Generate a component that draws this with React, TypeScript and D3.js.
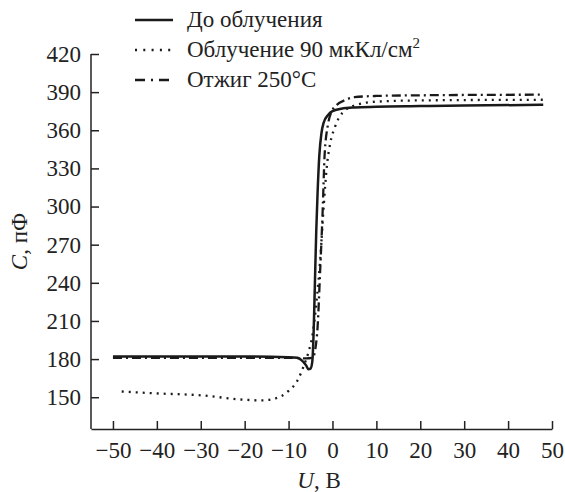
import React, { useEffect, useRef } from "react";
import * as d3 from "d3";

// C-V curves, U in volts, C in pF
const solidU = [-50, -40, -30, -20, -10, -8, -7, -6, -5.5, -5, -4.6, -4.3, -4, -3.7, -3.4, -3, -2.5, -2, -1, 0, 2, 5, 10, 20, 30, 48];
const solidC = [182, 182, 182, 182, 181.5, 181, 179, 175, 172, 172.5, 178, 200, 240, 280, 310, 340, 358, 366, 372, 375, 377, 378, 378.5, 379, 379.5, 380];

const dotU = [-48, -40, -30, -20, -16, -13, -10, -8, -6.5, -5.5, -4.5, -3.5, -2.8, -2, -1.3, -0.5, 0.5, 1.5, 3, 5, 10, 20, 48];
const dotC = [154.5, 153, 151.5, 148, 147.5, 149, 155, 163, 175, 185, 200, 230, 258, 300, 331, 350, 362, 370, 376, 379.5, 382.5, 383.5, 384];

const annealU = [-50, -40, -30, -20, -10, -6, -4.5, -3.5, -2.8, -2.2, -1.8, -1, 0, 1, 3, 5, 10, 20, 48];
const annealC = [181, 181, 181, 181, 181, 180.5, 181, 200, 250, 300, 340, 365, 376, 380, 384, 386, 387, 387.5, 388];

const xTicks = [-50, -40, -30, -20, -10, 0, 10, 20, 30, 40, 50];
const yTicks = [150, 180, 210, 240, 270, 300, 330, 360, 390, 420];

const legendNames = ["До облучения", "Облучение 90 мкКл/см", "Отжиг 250°C"];
const dashes = [null, "2,5", "9,4,2,4"];
const legendDashes = [null, "2,6.3", "10,6,2,6"];

const W = 565;
const H = 492;
const FONT = "Liberation Serif, Times New Roman, Times, Tinos, DejaVu Serif, Noto Serif, FreeSerif, serif";

export default function App() {
  const ref = useRef<SVGSVGElement>(null);

  useEffect(() => {
    const svg = d3.select(ref.current);
    svg.selectAll("*").remove();

    const margin = { top: 54, left: 91, right: 13, bottom: 63 };
    const x = d3.scaleLinear().domain([-55, 50]).range([margin.left, W - margin.right]);
    const y = d3.scaleLinear().domain([125, 420]).range([H - margin.bottom, margin.top]);

    const fmt = d3.format("d");

    //AXES
    const xAxis = svg.append("g")
      .attr("transform", `translate(0,${H - margin.bottom})`)
      .call(d3.axisBottom(x).tickValues(xTicks).tickSize(-8).tickSizeOuter(0).tickPadding(13).tickFormat(d => fmt(d as number)));
    const yAxis = svg.append("g")
      .attr("transform", `translate(${margin.left},0)`)
      .call(d3.axisLeft(y).tickValues(yTicks).tickSize(-8).tickSizeOuter(0).tickPadding(10).tickFormat(d => fmt(d as number)));

    for (const g of [xAxis, yAxis]) {
      g.attr("font-family", FONT).attr("font-size", 23);
      g.select(".domain").attr("stroke", "#222").attr("stroke-width", 1.5);
      g.selectAll(".tick line").attr("stroke", "#222").attr("stroke-width", 1.5);
      g.selectAll("text").attr("fill", "#222");
    }
    // y axis line stops at top tick
    yAxis.select(".domain").attr("d", `M0,${y(420)}V${H - margin.bottom}`);

    //CURVES
    const line = d3.line<[number, number]>()
      .x(d => x(d[0]))
      .y(d => y(d[1]))
      .curve(d3.curveMonotoneX);

    const series: [number, number][][] = [
      solidU.map((u, i) => [u, solidC[i]]),
      dotU.map((u, i) => [u, dotC[i]]),
      annealU.map((u, i) => [u, annealC[i]]),
    ];

    // draw anneal first so the solid line sits on top
    [2, 1, 0].forEach(i => {
      svg.append("path")
        .attr("d", line(series[i]))
        .attr("fill", "none")
        .attr("stroke", "#1a1a1a")
        .attr("stroke-width", i === 0 ? 2.5 : 2.3)
        .attr("stroke-dasharray", dashes[i]);
    });

    //LEGEND
    legendNames.forEach((name, i) => {
      const ly = 20 + i * 30;
      svg.append("line")
        .attr("x1", 135).attr("x2", 173)
        .attr("y1", ly).attr("y2", ly)
        .attr("stroke", "#1a1a1a")
        .attr("stroke-width", i === 0 ? 2.5 : 2.3)
        .attr("stroke-dasharray", legendDashes[i]);
      const t = svg.append("text")
        .attr("x", 187).attr("y", ly + 7)
        .attr("font-family", FONT).attr("font-size", 23).attr("fill", "#222")
        .text(name);
      if (i === 1) {
        t.append("tspan").attr("dy", -9).attr("font-size", 15).text("2");
      }
    });

    //AXIS TITLES
    const xt = svg.append("text")
      .attr("x", 319)
      .attr("y", H - 4)
      .attr("text-anchor", "middle")
      .attr("font-family", FONT).attr("font-size", 23).attr("fill", "#222");
    xt.append("tspan").attr("font-style", "italic").text("U");
    xt.append("tspan").text(", В");

    const yt = svg.append("text")
      .attr("transform", `translate(27,${(y(420) + H - margin.bottom) / 2}) rotate(-90)`)
      .attr("text-anchor", "middle")
      .attr("font-family", FONT).attr("font-size", 23).attr("fill", "#222");
    yt.append("tspan").attr("font-style", "italic").text("C");
    yt.append("tspan").text(", пФ");
  }, []);

  return (
    <div style={{ position: "absolute", left: 0, top: 0 }}>
      <svg ref={ref} width={W} height={H} style={{ display: "block", background: "#fff" }} />
    </div>
  );
}
